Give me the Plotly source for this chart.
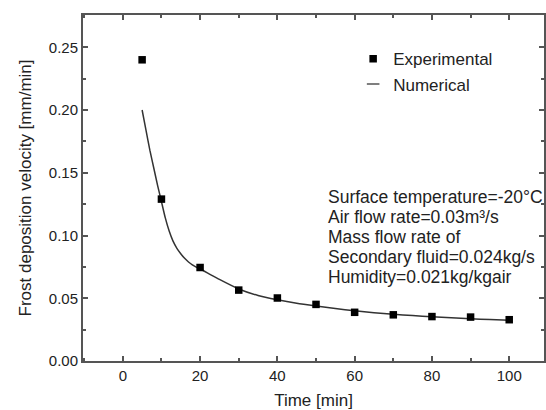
import plotly.graph_objects as go

# Experimental data
exp_time = [5, 10, 20, 30, 40, 50, 60, 70, 80, 90, 100]
exp_velocity = [0.240, 0.129, 0.0745, 0.0565, 0.0502, 0.0451, 0.0388, 0.0368, 0.0354, 0.0350, 0.0329]

# Numerical curve
num_time = [5, 6, 7, 8, 9, 10, 11, 12, 13, 14, 15, 16, 17, 18, 19, 20, 22, 25, 30, 35, 40,
            45, 50, 55, 60, 65, 70, 75, 80, 85, 90, 95, 100]
num_velocity = [0.200, 0.184, 0.168, 0.154, 0.140, 0.127, 0.114, 0.1035, 0.0955, 0.0898,
                0.0855, 0.0818, 0.0789, 0.0766, 0.0748, 0.0733, 0.0700, 0.0650, 0.0574, 0.0522,
                0.0488, 0.0460, 0.0438, 0.0418, 0.0400, 0.0385, 0.0372, 0.0362, 0.0352, 0.0344,
                0.0337, 0.0330, 0.0324]

x_ticks = [0, 20, 40, 60, 80, 100]
y_ticks = [0.00, 0.05, 0.10, 0.15, 0.20, 0.25]
y_tick_labels = ["0.00", "0.05", "0.10", "0.15", "0.20", "0.25"]

annotation_lines = [
    "Surface temperature=-20°C",
    "Air flow rate=0.03m³/s",
    "Mass flow rate of",
    "Secondary fluid=0.024kg/s",
    "Humidity=0.021kg/kgair",
]

FONT = "Liberation Sans, Arial, sans-serif"
TEXT = "#222222"
AXIS = "#555555"

fig = go.Figure()

fig.add_trace(go.Scatter(
    x=num_time, y=num_velocity, mode="lines",
    line=dict(color="#333333", width=1.5, shape="spline", smoothing=0.6),
    showlegend=False, hoverinfo="skip",
))
fig.add_trace(go.Scatter(
    x=exp_time, y=exp_velocity, mode="markers", name="Experimental",
    marker=dict(symbol="square", size=7.5, color="black"),
))
# legend proxy for the numerical line (short dash)
fig.add_trace(go.Scatter(
    x=[None], y=[None], mode="markers", name="Numerical",
    marker=dict(symbol="line-ew-open", size=9, color="#555555",
                line=dict(color="#555555", width=1.5)),
))

# multi-line note, one annotation per line for tight line spacing
note_x = 52.9
note_top_y = 0.1308
note_step = 20 / 1256.0
for i, line in enumerate(annotation_lines):
    fig.add_annotation(
        x=note_x, y=note_top_y - i * note_step, xref="x", yref="y",
        xanchor="left", yanchor="middle", align="left", showarrow=False,
        text=line, borderpad=0,
        font=dict(family=FONT, size=17.5, color=TEXT),
    )

axis_common = dict(
    showgrid=False, zeroline=False,
    showline=True, linecolor=AXIS, linewidth=2,
    mirror="ticks", ticks="inside", ticklen=5, tickwidth=1.5, tickcolor=AXIS,
    tickfont=dict(family=FONT, size=15, color=TEXT),
)

fig.update_xaxes(
    range=[-10.3, 109.0], tickvals=x_ticks,
    minor=dict(dtick=10, tick0=0, ticks="inside", ticklen=3, tickcolor=AXIS, tickwidth=1.5),
    title=dict(text="Time [min]", font=dict(family=FONT, size=17, color=TEXT), standoff=11),
    **axis_common,
)
fig.update_yaxes(
    range=[0, 0.2757], tickvals=y_ticks, ticktext=y_tick_labels,
    minor=dict(dtick=0.025, tick0=0, ticks="inside", ticklen=3, tickcolor=AXIS, tickwidth=1.5),
    title=dict(text="Frost deposition velocity [mm/min]", font=dict(family=FONT, size=17, color=TEXT), standoff=13),
    **axis_common,
)

fig.update_layout(
    width=546, height=410,
    margin=dict(l=83, r=0, t=15, b=49),
    paper_bgcolor="white", plot_bgcolor="white",
    legend=dict(
        x=0.586, y=0.924, xanchor="left", yanchor="top",
        bgcolor="rgba(0,0,0,0)",
        font=dict(family=FONT, size=17, color=TEXT),
        tracegroupgap=0,
    ),
)

fig.write_html("out.html")
